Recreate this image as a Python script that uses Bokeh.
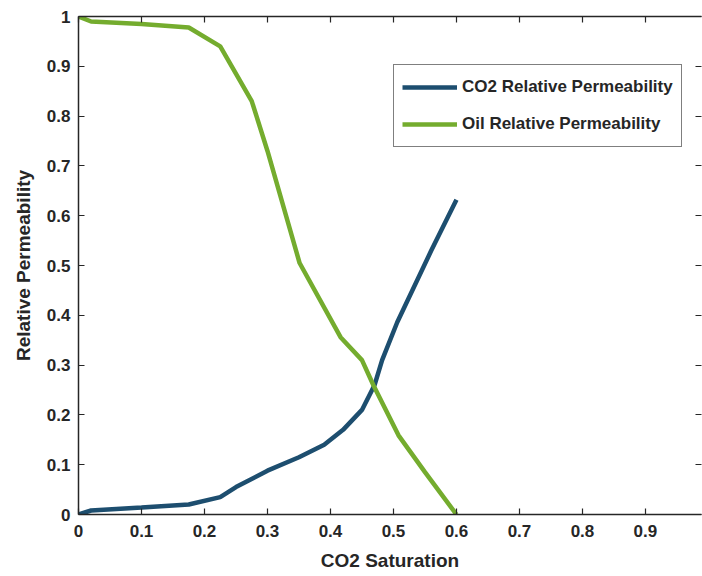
from bokeh.plotting import figure
from bokeh.models import Range1d, FixedTicker, LinearAxis, Legend, LegendItem
from bokeh.embed import file_html
from bokeh.resources import INLINE

# Data
co2_sat = [0, 0.02, 0.1, 0.175, 0.225, 0.25, 0.3, 0.35, 0.39, 0.42, 0.45, 0.47, 0.482, 0.506, 0.56, 0.6]
co2_kr = [0, 0.008, 0.014, 0.02, 0.035, 0.055, 0.088, 0.115, 0.14, 0.17, 0.21, 0.26, 0.31, 0.386, 0.53, 0.632]

oil_sat = [0, 0.02, 0.1, 0.175, 0.225, 0.275, 0.3, 0.351, 0.416, 0.45, 0.468, 0.508, 0.55, 0.6]
oil_kr = [1.0, 0.99, 0.985, 0.978, 0.94, 0.83, 0.73, 0.505, 0.356, 0.31, 0.26, 0.159, 0.085, 0.0]

x_ticks = [0, 0.1, 0.2, 0.3, 0.4, 0.5, 0.6, 0.7, 0.8, 0.9, 1.0]
x_tick_labels = ["0", "0.1", "0.2", "0.3", "0.4", "0.5", "0.6", "0.7", "0.8", "0.9", "1"]
y_ticks = [0, 0.1, 0.2, 0.3, 0.4, 0.5, 0.6, 0.7, 0.8, 0.9, 1.0]
y_tick_labels = ["0", "0.1", "0.2", "0.3", "0.4", "0.5", "0.6", "0.7", "0.8", "0.9", "1"]

series_names = ["CO2 Relative Permeability", "Oil Relative Permeability"]
co2_color = "#1d4e6f"
oil_color = "#74ac2e"
axis_color = "#262626"
FONT = "Liberation Sans"

p = figure(width=702, height=576, output_backend="svg", toolbar_location=None,
           x_range=Range1d(0, 0.989), y_range=Range1d(0, 1),
           min_border_left=78, min_border_right=1, min_border_top=16, min_border_bottom=62)
p.grid.visible = False
p.outline_line_color = None
p.background_fill_color = "white"
p.border_fill_color = "white"

r1 = p.line(co2_sat, co2_kr, line_color=co2_color, line_width=4.5)
r2 = p.line(oil_sat, oil_kr, line_color=oil_color, line_width=4.5)

def style_axis(ax, show_labels=True):
    ax.axis_line_color = axis_color
    ax.axis_line_width = 1.5
    ax.major_tick_line_color = axis_color
    ax.major_tick_line_width = 1.2
    ax.major_tick_in = 6
    ax.major_tick_out = 0
    ax.minor_tick_line_color = None
    ax.major_label_text_font = FONT
    ax.major_label_text_font_style = "bold"
    ax.major_label_text_color = axis_color
    ax.axis_label_text_font = FONT
    ax.axis_label_text_font_style = "bold"
    ax.axis_label_text_color = axis_color
    if show_labels:
        ax.major_label_text_font_size = "17px"
        ax.axis_label_text_font_size = "19px"
    else:
        ax.major_label_text_font_size = "8px"
        ax.major_label_standoff = 0

xa = p.xaxis[0]
xa.ticker = FixedTicker(ticks=x_ticks)
xa.major_label_overrides = dict(zip(x_ticks, x_tick_labels))
xa.axis_label = "CO2 Saturation"
style_axis(xa)
xa.major_label_standoff = 10
xa.axis_label_standoff = 10

ya = p.yaxis[0]
ya.ticker = FixedTicker(ticks=y_ticks)
ya.major_label_overrides = dict(zip(y_ticks, y_tick_labels))
ya.axis_label = "Relative Permeability"
style_axis(ya)
ya.major_label_standoff = 8
ya.axis_label_standoff = 10

# box-style top and right axes: ticks only, no labels
top = LinearAxis(ticker=FixedTicker(ticks=x_ticks))
style_axis(top, show_labels=False)
top.major_label_overrides = {t: "" for t in x_ticks}
top.major_label_text_color = None
p.add_layout(top, "above")

right = LinearAxis(ticker=FixedTicker(ticks=y_ticks))
style_axis(right, show_labels=False)
right.major_label_overrides = {t: "" for t in y_ticks}
right.major_label_text_color = None
right.axis_line_color = None
p.add_layout(right, "right")

legend = Legend(items=[LegendItem(label=series_names[0], renderers=[r1]),
                       LegendItem(label=series_names[1], renderers=[r2])],
                location=(315, 367))
legend.label_text_font = FONT
legend.label_text_font_style = "bold"
legend.label_text_font_size = "17px"
legend.label_text_color = axis_color
legend.glyph_width = 55
legend.glyph_height = 28
legend.label_height = 28
legend.label_standoff = 5
legend.spacing = 9
legend.padding = 8
legend.margin = 0
legend.border_line_color = "black"
legend.border_line_width = 1
legend.background_fill_color = "white"
legend.background_fill_alpha = 1
p.add_layout(legend)

open("out.html", "w").write(file_html(p, INLINE))
